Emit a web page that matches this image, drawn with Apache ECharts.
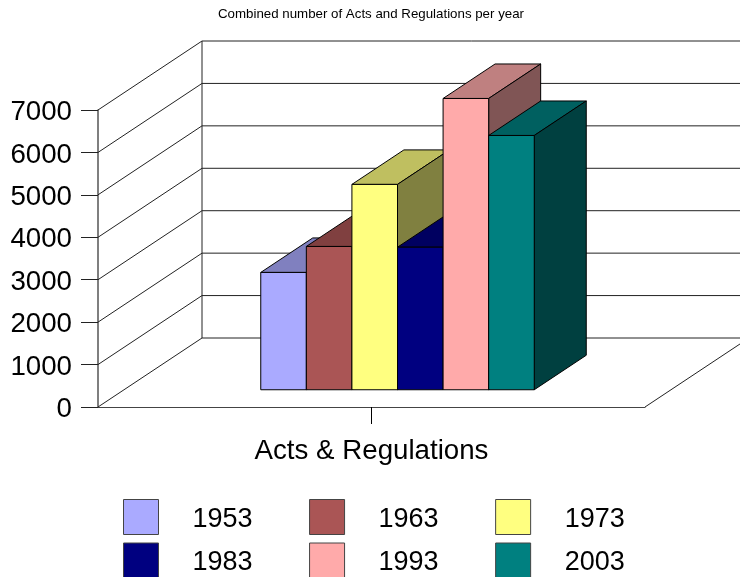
<!DOCTYPE html>
<html>
<head>
<meta charset="utf-8">
<title>Acts and Regulations</title>
<script src="https://cdn.jsdelivr.net/npm/echarts@6/dist/echarts.min.js"></script>
<style>
	body { margin: 0; background: #fff; }
	#chart { width: 740px; height: 577px; }
</style>
</head>
<body>
<div id="chart"></div>
<script>
var categories = ['Acts & Regulations'];
var years = ['1953', '1963', '1973', '1983', '1993', '2003'];
var values1953 = [2765];
var values1963 = [3377];
var values1973 = [4840];
var values1983 = [3360];
var values1993 = [6865];
var values2003 = [5993];
var wallTicks = [0, 1000, 2000, 3000, 4000, 5000, 6000, 7000];

var fontName = '"Liberation Sans", Arial, sans-serif';
var barColors = ['#AAAAFF', '#AA5555', '#FFFF80', '#000080', '#FFAAAA', '#008080'];
var allValues = [values1953, values1963, values1973, values1983, values1993, values2003];
// how far the floor runs back from the front plane, in pixels
var depthX = 104;
var depthY = -69;

// darken a hex colour for the top and side faces
function shade(hex, k) {
	var n = parseInt(hex.slice(1), 16);
	var r = Math.round((n >> 16 & 255) * k);
	var g = Math.round((n >> 8 & 255) * k);
	var b = Math.round((n & 255) * k);
	return 'rgb(' + r + ',' + g + ',' + b + ')';
}

function face(points, fill) {
	return {
		type: 'polygon',
		shape: { points: points },
		style: { fill: fill, stroke: '#000', lineWidth: 1 }
	};
}

function line(points) {
	return {
		type: 'polyline',
		shape: { points: points },
		style: { fill: null, stroke: '#222', lineWidth: 1 }
	};
}

// back wall, side wall and floor, one polyline per tick
function renderWall(params, api) {
	var grid = params.coordSys;
	var y = api.coord([0, api.value(0)])[1];
	var left = grid.x;
	var right = grid.x + grid.width;
	var children = [line([
		[left, y],
		[left + depthX, y + depthY],
		[right + depthX, y + depthY]
	])];
	if (api.value(0) === 0) {
		var yTop = api.coord([0, wallTicks[wallTicks.length - 1]])[1];
		children.push(line([[right, y], [right + depthX, y + depthY]]));
		children.push(line([[left + depthX, y + depthY], [left + depthX, yTop + depthY]]));
	}
	return { type: 'group', children: children };
}

// one 3d box, set a quarter of the way back from the front plane
function makeBarRenderer(index) {
	return function(params, api) {
		var top = api.coord([api.value(0), api.value(1)]);
		var bottom = api.coord([api.value(0), 0]);
		var band = api.size([1, 0])[0];
		var barWidth = band / 12;
		var x0 = top[0] - band / 4 + index * barWidth + depthX / 4;
		var x1 = x0 + barWidth;
		var y0 = top[1] + depthY / 4;
		var y1 = bottom[1] + depthY / 4;
		var dx = depthX / 2;
		var dy = depthY / 2;
		var color = barColors[index];
		return {
			type: 'group',
			children: [
				face([[x0, y0], [x1, y0], [x1 + dx, y0 + dy], [x0 + dx, y0 + dy]], shade(color, 0.75)),
				face([[x1, y0], [x1 + dx, y0 + dy], [x1 + dx, y1 + dy], [x1, y1]], shade(color, 0.5)),
				face([[x0, y0], [x1, y0], [x1, y1], [x0, y1]], color)
			]
		};
	};
}

var series = [{
	type: 'custom',
	name: 'walls',
	renderItem: renderWall,
	encode: { y: 0 },
	data: wallTicks.map(function(t) { return [t]; }),
	silent: true
}];
years.forEach(function(year, i) {
	series.push({
		type: 'custom',
		name: year,
		renderItem: makeBarRenderer(i),
		encode: { x: 0, y: 1 },
		itemStyle: { color: barColors[i] },
		data: [[categories[0], allValues[i][0]]]
	});
});

// one legend per row, the row gap can't be set apart from itemGap
function legendRow(data, top) {
	return {
		data: data,
		left: 123,
		top: top,
		padding: 0,
		itemWidth: 35,
		itemHeight: 35,
		itemGap: 56.5,
		icon: 'rect',
		itemStyle: { borderColor: '#444', borderWidth: 1 },
		formatter: function(name) { return '{a|' + name + '}'; },
		textStyle: {
			rich: { a: { fontFamily: fontName, fontSize: 27, color: '#000', padding: [5, 0, 0, 29] } }
		}
	};
}

var myChart = echarts.init(document.getElementById('chart'), null, { renderer: 'canvas' });
myChart.setOption({
	animation: false,
	backgroundColor: '#fff',
	textStyle: { fontFamily: fontName },
	title: {
		text: 'Combined number of Acts and Regulations per year',
		left: 366,
		top: 2.5,
		textAlign: 'center',
		textStyle: { fontFamily: fontName, fontSize: 13.3, fontWeight: 'normal', color: '#000' }
	},
	legend: [legendRow(years.slice(0, 3), 499), legendRow(years.slice(3), 542.5)],
	grid: { left: 98, top: 110, width: 547, height: 297, containLabel: false },
	xAxis: {
		type: 'category',
		data: categories,
		axisLine: { lineStyle: { color: '#444', width: 1 } },
		axisTick: { show: true, alignWithLabel: true, length: 17, lineStyle: { color: '#000' } },
		axisLabel: { margin: 30.5, fontFamily: fontName, fontSize: 27.7, color: '#000' }
	},
	yAxis: {
		type: 'value',
		min: 0,
		max: 7000,
		interval: 1000,
		splitLine: { show: false },
		axisLine: { show: true, lineStyle: { color: '#555', width: 1.5 } },
		axisTick: { show: true, length: 17, lineStyle: { color: '#222' } },
		axisLabel: {
			margin: 26,
			formatter: function(v) { return '{a|' + v + '}'; },
			rich: { a: { fontFamily: fontName, fontSize: 27.7, color: '#000', padding: [5, 0, 0, 0] } }
		}
	},
	series: series
});
</script>
</body>
</html>
